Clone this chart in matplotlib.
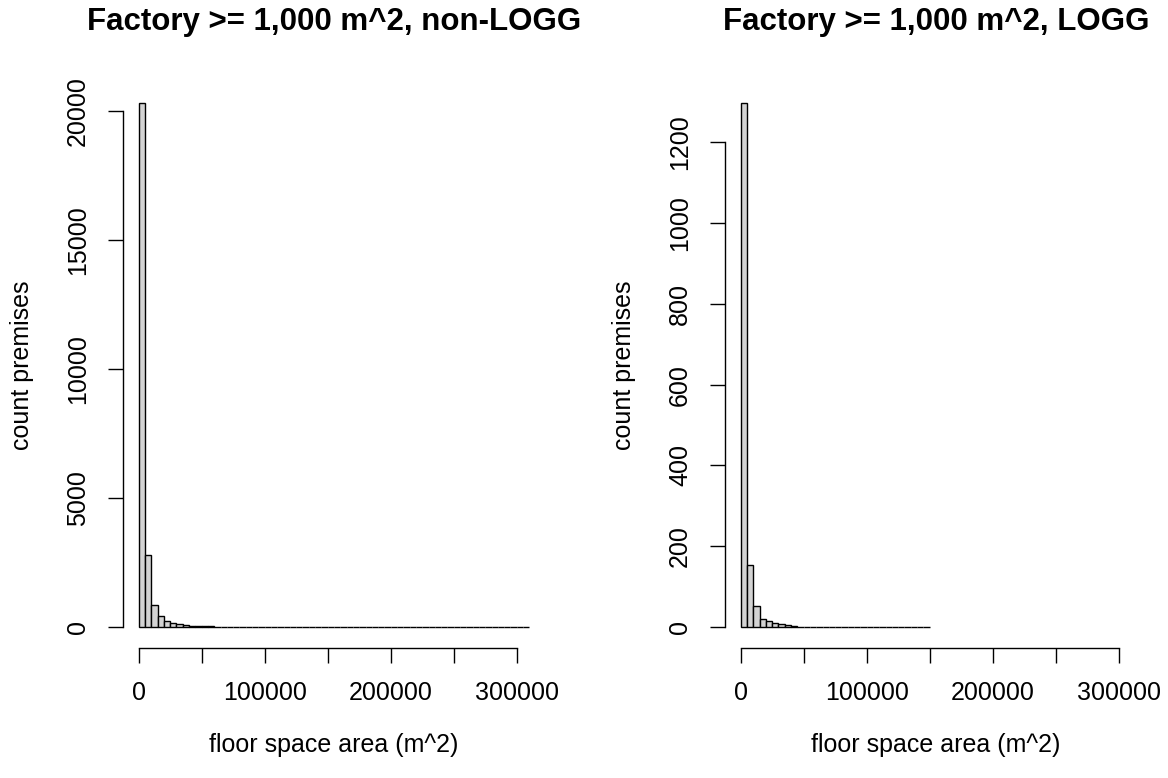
import numpy as np
import matplotlib
matplotlib.use("Agg")
import matplotlib.pyplot as plt

plt.rcParams['font.family'] = ['Liberation Sans', 'DejaVu Sans']

# bin edges in m^2 (width 5000)
bins_non_logg = np.arange(0, 310001, 5000)
bins_logg = np.arange(0, 150001, 5000)

counts_non_logg = [20300, 2780, 850, 430, 235, 165, 115, 62, 58, 55, 50, 45,
                   9, 8, 7, 6, 5, 5, 4, 4, 3, 3, 3, 2, 2, 2, 2, 2, 1, 1, 1, 1,
                   1, 1, 1, 1, 1, 0, 1, 0, 1, 0, 0, 1, 0, 0, 1, 0, 0, 0, 1, 0,
                   0, 0, 0, 1, 0, 0, 0, 0, 0, 1]
counts_logg = [1297, 153, 52, 19, 14, 11, 7, 4, 2, 1, 1, 1, 1, 0, 1, 0, 0, 1,
               0, 0, 0, 1, 0, 0, 0, 0, 0, 0, 0, 1]

titles = ["Factory >= 1,000 m^2, non-LOGG", "Factory >= 1,000 m^2, LOGG"]
y_ticks = [np.arange(0, 20001, 5000), np.arange(0, 1201, 200)]
x_ticks = np.arange(0, 300001, 50000)
x_ticklabels = ["0", "", "100000", "", "200000", "", "300000"]

W, H = 1168, 778
fig = plt.figure(figsize=(W / 100, H / 100), dpi=100)

panels = [
    (123, bins_non_logg, counts_non_logg),
    (725, bins_logg, counts_logg),
]

for i, (left_px, edges, counts) in enumerate(panels):
    ax = fig.add_axes([left_px / W, (H - 648) / H, 422 / W, 566 / H])
    ax.hist(edges[:-1], bins=edges, weights=counts, color='#d3d3d3',
            edgecolor='black', linewidth=1)
    ymax = max(counts)
    ax.set_ylim(-0.04 * ymax, 1.04 * ymax)
    # same x range on both panels (0 .. 310000, padded 4% like R)
    ax.set_xlim(-12400, 322400)

    for s in ['top', 'right']:
        ax.spines[s].set_visible(False)
    ax.spines['left'].set_bounds(y_ticks[i][0], y_ticks[i][-1])
    ax.spines['bottom'].set_bounds(0, 300000)
    ax.spines['left'].set_linewidth(1)
    ax.spines['bottom'].set_linewidth(1)

    ax.set_xticks(x_ticks)
    ax.set_xticklabels(x_ticklabels)
    ax.set_yticks(y_ticks[i])
    ax.set_yticklabels([str(v) for v in y_ticks[i]], rotation=90, va='center')
    ax.tick_params(axis='both', length=10.8, width=1, labelsize=18, pad=13)

    cx = (left_px + 211) / W
    fig.text(cx, 1 - 22 / H, titles[i], ha='center', va='center',
             fontsize=22.5, fontweight='bold')
    fig.text(cx, 1 - 745 / H, "floor space area (m^2)", ha='center',
             va='center', fontsize=18)
    fig.text((left_px - 101) / W, 1 - 365 / H, "count premises", ha='center',
             va='center', rotation=90, fontsize=18)

fig.savefig("out.png", dpi=100)
